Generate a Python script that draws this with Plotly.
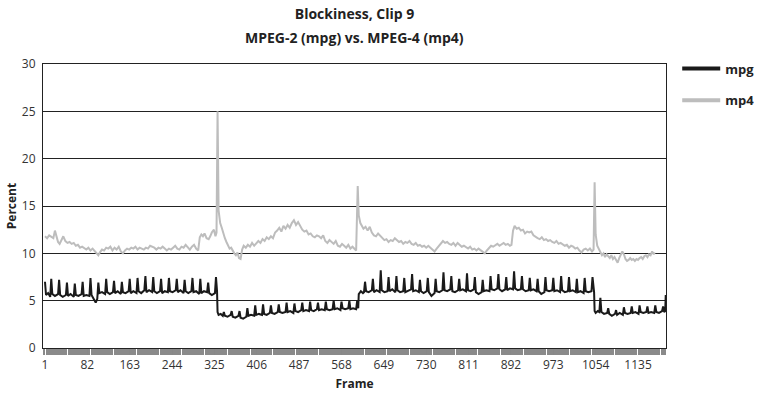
import plotly.graph_objects as go

# ---------------- data ----------------
mpg_frame = [
    1, 3, 7, 11,
    13, 15, 20, 26,
    28, 30, 35, 41,
    43, 45, 50, 56,
    58, 60, 65, 71,
    73, 75, 80, 86,
    88, 90, 95, 98, 101,
    103, 105, 110, 116,
    118, 120, 125, 131,
    133, 135, 140, 146,
    148, 150, 155, 161,
    163, 165, 170, 176,
    178, 180, 185, 191,
    193, 195, 200, 206,
    208, 210, 215, 221,
    223, 225, 230, 236,
    238, 240, 245, 251,
    253, 255, 260, 266,
    268, 270, 275, 281,
    283, 285, 290, 296,
    298, 300, 305, 311,
    313, 315, 320, 326,
    328, 330, 331, 333, 337, 341,
    343, 345, 350, 356,
    358, 360, 365, 371,
    373, 375, 380, 386,
    388, 390, 395, 401,
    403, 405, 410, 416,
    418, 420, 425, 431,
    433, 435, 440, 446,
    448, 450, 455, 461,
    463, 465, 470, 476,
    478, 480, 485, 491,
    493, 495, 500, 506,
    508, 510, 515, 521,
    523, 525, 530, 536,
    538, 540, 545, 551,
    553, 555, 560, 566,
    568, 570, 575, 581,
    583, 585, 590, 596,
    598, 600, 601, 605, 609, 611,
    613, 615, 620, 626,
    628, 630, 635, 641,
    643, 645, 650, 656,
    658, 660, 665, 671,
    673, 675, 680, 686,
    688, 690, 695, 701,
    703, 705, 710, 716,
    718, 720, 725, 731,
    733, 735, 740, 746,
    748, 750, 755, 761,
    763, 765, 770, 776,
    778, 780, 785, 791,
    793, 795, 800, 806,
    808, 810, 815, 821,
    823, 825, 830, 836,
    838, 840, 845, 851,
    853, 855, 860, 866,
    868, 870, 875, 881,
    883, 885, 890, 896,
    898, 900, 905, 911,
    913, 915, 920, 926,
    928, 930, 935, 941,
    943, 945, 950, 956,
    958, 960, 965, 971,
    973, 975, 980, 986,
    988, 990, 995, 1001,
    1003, 1005, 1010, 1016,
    1018, 1020, 1025, 1031,
    1033, 1035, 1040, 1046,
    1048, 1050, 1051, 1052, 1054, 1058, 1061,
    1063, 1065, 1070, 1076,
    1078, 1080, 1085, 1091,
    1093, 1095, 1100, 1106,
    1108, 1110, 1115, 1121,
    1123, 1125, 1130, 1136,
    1138, 1140, 1145, 1151,
    1153, 1155, 1160, 1166,
    1168, 1170, 1175, 1181,
    1183, 1185, 1187, 1188,
]
mpg_pct = [
    7.0, 5.6, 5.8, 5.4,
    7.3, 5.7, 5.5, 5.7,
    7.2, 5.6, 5.4, 5.6,
    6.9, 5.5, 5.7, 5.4,
    6.8, 5.6, 5.5, 5.7,
    7.0, 5.5, 5.6, 5.5,
    7.4, 5.6, 5.1, 4.8, 5.2,
    6.9, 5.8, 5.9, 5.7,
    7.3, 5.9, 5.7, 5.9,
    7.1, 5.8, 6.0, 5.7,
    7.0, 5.9, 5.8, 6.0,
    7.3, 5.8, 6.0, 5.8,
    7.4, 6.0, 5.8, 6.1,
    7.6, 5.9, 6.1, 5.9,
    7.5, 6.0, 5.8, 6.0,
    7.3, 5.8, 6.0, 5.9,
    7.4, 6.0, 5.9, 6.1,
    7.3, 5.9, 6.1, 5.8,
    7.2, 6.0, 5.8, 6.0,
    7.4, 5.9, 6.0, 5.7,
    7.3, 5.8, 6.0, 5.9,
    6.9, 5.8, 5.6, 5.8,
    7.5, 6.0, 3.8, 3.5, 3.6, 3.4,
    3.8, 3.4, 3.3, 3.5,
    3.9, 3.3, 3.2, 3.4,
    3.9, 3.2, 3.1, 3.3,
    4.2, 3.4, 3.5, 3.4,
    4.5, 3.5, 3.6, 3.5,
    4.6, 3.6, 3.5, 3.7,
    4.5, 3.7, 3.6, 3.8,
    4.6, 3.8, 3.7, 3.8,
    4.8, 3.8, 3.9, 3.7,
    4.7, 3.9, 3.8, 4.0,
    4.8, 3.9, 4.0, 3.9,
    4.9, 4.0, 3.9, 4.1,
    4.8, 4.0, 4.1, 4.0,
    4.9, 4.1, 4.0, 4.1,
    5.0, 4.1, 4.2, 4.0,
    4.9, 4.2, 4.1, 4.2,
    5.0, 4.1, 4.2, 4.1,
    5.0, 4.2, 5.7, 6.0, 5.8, 5.9,
    7.0, 6.0, 5.9, 6.1,
    7.3, 5.9, 6.1, 5.9,
    8.2, 6.1, 5.9, 6.0,
    7.5, 6.0, 6.2, 5.9,
    7.6, 6.1, 5.9, 6.0,
    7.4, 5.9, 6.0, 6.2,
    7.8, 6.0, 6.1, 5.9,
    7.2, 6.0, 5.8, 6.0,
    7.4, 5.9, 5.5, 5.8,
    7.3, 6.0, 5.9, 6.1,
    8.0, 6.1, 6.0, 6.2,
    7.6, 6.0, 5.9, 6.1,
    7.3, 6.1, 6.2, 6.0,
    7.9, 6.1, 6.0, 6.2,
    7.5, 5.9, 5.7, 5.9,
    7.2, 6.0, 6.1, 6.0,
    7.6, 6.2, 6.1, 6.3,
    7.8, 6.2, 6.0, 6.2,
    7.5, 6.1, 6.3, 6.2,
    8.1, 6.3, 6.1, 6.2,
    7.6, 6.2, 6.0, 6.1,
    7.4, 6.1, 6.2, 6.0,
    7.3, 6.0, 5.7, 5.9,
    7.5, 6.1, 6.0, 6.1,
    7.4, 6.0, 6.1, 5.9,
    7.6, 6.1, 5.9, 6.0,
    7.5, 6.0, 6.1, 5.9,
    7.3, 5.9, 6.0, 5.8,
    7.4, 6.0, 5.9, 6.0,
    7.5, 6.0, 5.9, 3.9, 3.7, 3.9, 3.8,
    5.3, 3.8, 3.6, 3.7,
    4.2, 3.6, 3.4, 3.6,
    4.0, 3.5, 3.7, 3.5,
    4.3, 3.7, 3.6, 3.7,
    4.4, 3.7, 3.8, 3.6,
    4.5, 3.8, 3.7, 3.8,
    4.4, 3.7, 3.8, 3.7,
    4.5, 3.8, 3.7, 3.9,
    4.4, 3.8, 3.9, 5.6,
]

mp4_frame = [
    1, 5, 9, 13, 17, 20, 23, 26, 29, 32, 36, 40, 44, 48, 52, 56, 60, 64, 68, 72,
    76, 80, 84, 88, 92, 96, 100, 103, 106, 110, 114, 118, 122, 126, 130, 134, 138, 142, 146, 150,
    154, 158, 162, 166, 170, 174, 178, 182, 186, 190, 194, 198, 202, 206, 210, 214, 218, 222, 226, 230,
    234, 238, 242, 246, 250, 254, 258, 262, 266, 270, 274, 278, 282, 286, 290, 294, 297, 300, 303, 306,
    310, 314, 317, 320, 324, 327, 329, 331, 333, 336, 339, 342, 345, 348, 351, 354, 357, 360, 363, 366,
    369, 372, 375, 378, 381, 385, 389, 393, 397, 401, 405, 409, 413, 417, 421, 425, 429, 433, 437, 441,
    445, 449, 453, 457, 461, 465, 469, 473, 477, 481, 485, 489, 493, 497, 501, 505, 509, 513, 517, 521,
    525, 529, 533, 537, 541, 545, 549, 553, 557, 561, 565, 569, 573, 577, 581, 585, 589, 593, 596, 599,
    601, 604, 607, 610, 614, 618, 622, 626, 630, 634, 638, 642, 646, 650, 654, 658, 662, 666, 670, 674,
    678, 682, 686, 690, 694, 698, 702, 706, 710, 714, 718, 722, 726, 730, 734, 738, 742, 746, 750, 754,
    758, 762, 766, 770, 774, 778, 782, 786, 790, 794, 798, 802, 806, 810, 814, 818, 822, 826, 830, 834,
    838, 842, 846, 850, 854, 858, 862, 866, 870, 874, 878, 882, 886, 890, 893, 896, 899, 903, 907, 911,
    915, 919, 923, 927, 931, 935, 939, 943, 947, 951, 955, 959, 963, 967, 971, 975, 979, 983, 987, 991,
    995, 999, 1003, 1007, 1011, 1015, 1019, 1023, 1027, 1031, 1035, 1039, 1043, 1047, 1050, 1052, 1054, 1057, 1060, 1063,
    1066, 1069, 1072, 1075, 1078, 1081, 1084, 1087, 1090, 1093, 1096, 1099, 1102, 1105, 1108, 1111, 1114, 1117, 1120, 1123,
    1126, 1129, 1132, 1135, 1138, 1141, 1144, 1147, 1150, 1153, 1156, 1159, 1162, 1165, 1167,
]
mp4_pct = [
    11.8, 11.6, 11.9, 11.7, 11.6, 12.4, 11.8, 11.2, 11.0, 11.4, 11.8, 11.3, 11.1, 11.2, 11.0, 11.1, 10.8, 10.9, 10.6, 10.7,
    10.5, 10.4, 10.6, 10.3, 10.5, 10.2, 9.9, 9.8, 10.1, 10.4, 10.3, 10.6, 10.5, 10.7, 10.3, 10.6, 10.4, 10.7, 10.2, 10.0,
    10.3, 10.5, 10.4, 10.6, 10.5, 10.7, 10.4, 10.6, 10.5, 10.4, 10.6, 10.5, 10.8, 10.7, 10.6, 10.4, 10.6, 10.5, 10.7, 10.5,
    10.3, 10.5, 10.4, 10.6, 10.8, 10.5, 10.4, 10.7, 10.6, 10.9, 10.6, 10.4, 10.7, 10.9, 10.5, 10.3, 11.7, 12.0, 11.8, 12.1,
    11.6, 11.5, 11.8, 12.2, 12.5, 11.8, 12.2, 25.0, 14.5, 13.2, 12.7, 12.0, 11.6, 11.2, 10.9, 10.5, 10.6, 10.2, 10.0, 9.8,
    10.1, 9.5, 9.4, 10.4, 10.8, 10.6, 10.9, 10.7, 11.1, 10.8, 11.0, 11.3, 11.1, 11.5, 11.3, 11.7, 11.5, 11.8, 11.6, 12.2,
    12.4, 12.7, 12.3, 12.9, 12.6, 13.0, 12.7, 13.2, 13.5, 13.0, 13.3, 12.9, 12.5, 12.3, 12.4, 12.0, 12.1, 11.8, 11.7, 11.9,
    11.8, 11.6, 11.9, 11.3, 11.1, 11.4, 11.2, 11.0, 11.3, 10.8, 10.7, 11.0, 10.8, 10.6, 10.9, 10.5, 10.7, 10.4, 10.3, 17.1,
    14.0, 13.2, 12.9, 12.6, 12.8, 12.4, 12.8, 12.2, 11.9, 11.8, 12.1, 11.9, 11.7, 11.4, 11.5, 11.2, 11.4, 11.3, 11.6, 11.4,
    11.2, 11.3, 11.0, 11.2, 11.1, 11.3, 11.0, 10.9, 11.1, 10.8, 10.9, 10.7, 10.8, 10.6, 10.8, 10.6, 10.4, 10.2, 10.5, 10.8,
    11.0, 11.3, 11.1, 11.2, 11.0, 10.9, 11.1, 10.8, 11.1, 10.9, 10.7, 10.8, 10.6, 10.5, 10.7, 10.4, 10.5, 10.3, 10.5, 10.3,
    10.2, 10.0, 10.3, 10.6, 10.8, 10.7, 10.9, 11.0, 10.8, 11.0, 11.1, 10.9, 11.0, 10.8, 10.9, 12.4, 12.9, 12.6, 12.7, 12.4,
    12.5, 12.1, 12.3, 12.2, 12.3, 11.9, 11.7, 11.6, 11.5, 11.7, 11.4, 11.5, 11.3, 11.4, 11.2, 11.1, 11.3, 11.0, 11.1, 10.9,
    10.8, 10.9, 10.6, 10.8, 10.7, 10.5, 10.6, 10.3, 10.1, 10.4, 10.5, 10.3, 10.5, 10.2, 10.4, 17.5, 12.0, 10.8, 10.5, 10.1,
    9.8, 10.0, 9.6, 9.9, 9.7, 9.5, 9.8, 9.4, 9.6, 9.2, 9.0, 9.5, 9.8, 10.2, 9.9, 9.4, 9.2, 9.3, 9.5, 9.3,
    9.4, 9.2, 9.4, 9.3, 9.5, 9.6, 9.4, 9.7, 9.8, 9.6, 9.9, 9.8, 10.2, 9.9, 10.1,
]

assert len(mpg_frame) == len(mpg_pct), (len(mpg_frame), len(mpg_pct))
assert len(mp4_frame) == len(mp4_pct), (len(mp4_frame), len(mp4_pct))

series_names = ["mpg", "mp4"]
series_colors = ["#1a1a1a", "#bdbdbd"]
x_tick_vals = [1, 82, 163, 244, 325, 406, 487, 568, 649, 730, 811, 892, 973, 1054, 1135]
y_tick_vals = [0, 5, 10, 15, 20, 25, 30]
title_line1 = "Blockiness, Clip 9"
title_line2 = "MPEG-2 (mpg) vs. MPEG-4 (mp4)"

FONT = "Open Sans"

fig = go.Figure()
for name, color, xs, ys in zip(series_names, series_colors,
                               [mpg_frame, mp4_frame], [mpg_pct, mp4_pct]):
    fig.add_trace(go.Scatter(x=xs, y=ys, mode="lines", name=name,
                             showlegend=False, hoverinfo="skip",
                             line=dict(color=color, width=2)))
# legend keys (thicker strokes, as in the reference legend)
for i, (name, color) in enumerate(zip(series_names, series_colors)):
    fig.add_trace(go.Scatter(x=[None], y=[None], mode="lines", name=name,
                             legendgroup=f"g{i}", showlegend=True,
                             line=dict(color=color, width=4)))

fig.update_layout(
    width=762, height=394,
    margin=dict(l=43, r=96, t=64, b=46, autoexpand=False),
    paper_bgcolor="white", plot_bgcolor="white",
    font=dict(family=FONT, size=12, color="#333"),
    title=dict(
        text=f"<b>{title_line1}</b>",
        x=(43 + 666) / 2 / 762, xanchor="center",
        y=1 - 14 / 394, yanchor="middle", yref="container",
        font=dict(family=FONT, size=14, color="#222"),
    ),
    annotations=[dict(
        text=f"<b>{title_line2}</b>", xref="paper", yref="paper",
        x=0.5, y=(284 + 27) / 284, xanchor="center", yanchor="middle",
        showarrow=False, font=dict(family=FONT, size=14, color="#222"),
    )],
    showlegend=True,
    legend=dict(
        x=1.018, xanchor="left", y=1.037, yanchor="top",
        font=dict(family=FONT, size=13, color="#222", weight="bold"),
        tracegroupgap=12, itemwidth=38, bgcolor="rgba(0,0,0,0)",
    ),
)

fig.update_xaxes(
    automargin=False,
    range=[-2.8, 1188.5],
    tickmode="array", tickvals=x_tick_vals, ticktext=[str(v) for v in x_tick_vals],
    ticks="outside", ticklen=6, tickcolor="#888", tickwidth=1,
    minor=dict(dtick=2, tick0=1, ticks="outside", ticklen=6, tickcolor="#8a8a8a", tickwidth=1, showgrid=False),
    showgrid=False, zeroline=False,
    showline=True, linecolor="#222", linewidth=1, mirror=True,
    tickfont=dict(size=12, color="#333"),
    title=dict(text="<b>Frame</b>", font=dict(size=12, color="#222"), standoff=7),
)
fig.update_yaxes(
    automargin=False,
    range=[0, 30], tickmode="array", tickvals=y_tick_vals,
    ticks="", showgrid=True, gridcolor="#222", gridwidth=1,
    zeroline=False, showline=True, linecolor="#222", linewidth=1, mirror=True,
    ticklabelstandoff=4,
    tickfont=dict(size=12, color="#333"),
    title=dict(text="<b>Percent</b>", font=dict(size=12, color="#222"), standoff=2),
)

fig.write_html("out.html", config={"displayModeBar": False},
               post_script="document.body.style.margin='0';")
